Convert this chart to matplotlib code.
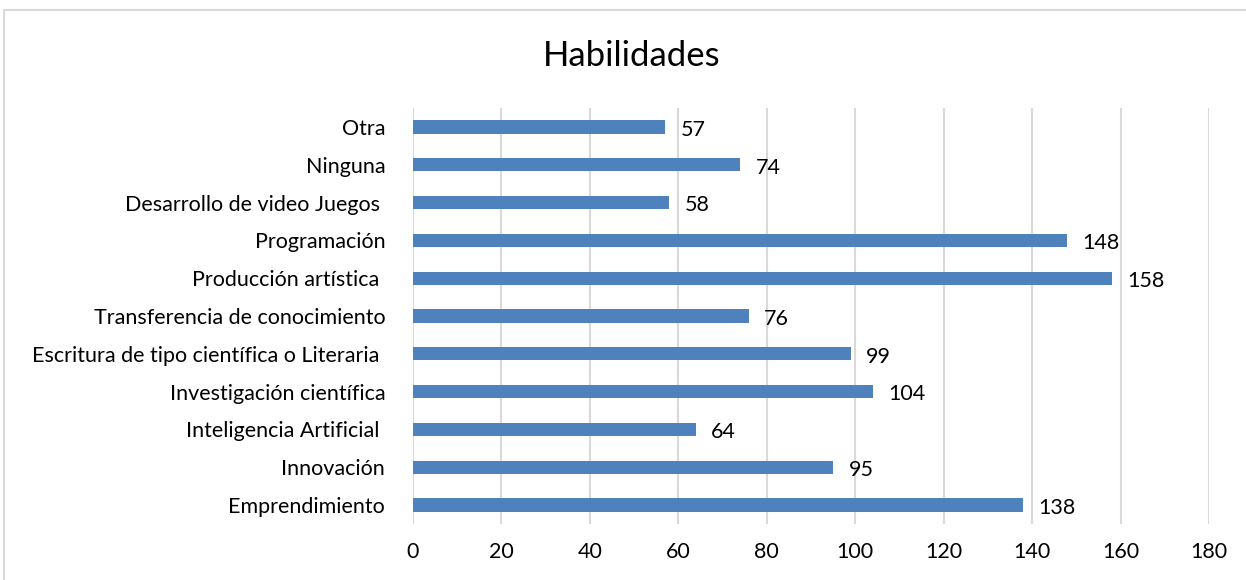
import matplotlib.pyplot as plt
from matplotlib.patches import Rectangle

categorias = ["Emprendimiento", "Innovación", "Inteligencia Artificial ",
              "Investigación científica", "Escritura de tipo científica o Literaria ",
              "Transferencia de conocimiento", "Producción artística ",
              "Programación", "Desarrollo de video Juegos ", "Ninguna", "Otra"]
valores = [138, 95, 64, 104, 99, 76, 158, 148, 58, 74, 57]
xticks = [0, 20, 40, 60, 80, 100, 120, 140, 160, 180]

plt.rcParams['font.family'] = ['Lato', 'DejaVu Sans']

W, H = 1246, 580
fig = plt.figure(figsize=(W / 100, H / 100), dpi=100)

# chart area border (light grey, cut at right/bottom like the screenshot)
fig.patches.append(Rectangle((4 / W, -0.1), 1.2, 1 - 10 / H + 0.1,
                             transform=fig.transFigure, fill=False,
                             edgecolor='#d9d9d9', linewidth=1.5))

ax = fig.add_axes([413 / W, 1 - 524 / H, (1209 - 413) / W, (524 - 108) / H])
y = list(range(len(categorias)))
ax.barh(y, valores, height=0.35, color='#4f81bd', zorder=3)
ax.set_xlim(0, 180)
ax.set_ylim(-0.5, len(categorias) - 0.5)
ax.set_xticks(xticks)
ax.set_xticklabels([str(v) for v in xticks], fontsize=15.5)
ax.set_yticks(y)
ax.set_yticklabels(categorias, fontsize=15.5)
ax.tick_params(length=0, pad=13, axis='x')
ax.tick_params(length=0, pad=20, axis='y')
ax.grid(axis='x', color='#d9d9d9', linewidth=1.5, zorder=0)
for s in ax.spines.values():
    s.set_visible(False)

for yi, v in zip(y, valores):
    ax.annotate(str(v), (v, yi), xytext=(11, -2), textcoords='offset points',
                va='center', ha='left', fontsize=15.5, color='black')

fig.text(632 / W, 1 - 56 / H, "Habilidades", ha='center', va='center', fontsize=25)

fig.savefig('out.png', dpi=100)
